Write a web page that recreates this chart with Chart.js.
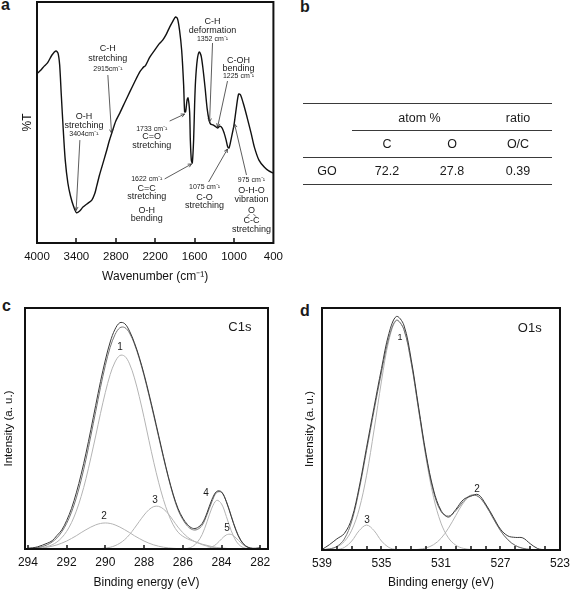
<!DOCTYPE html>
<html>
<head>
<meta charset="utf-8">
<title>GO characterisation</title>
<script src="https://cdn.jsdelivr.net/npm/chart.js@4.4.1/dist/chart.umd.min.js"></script>
<style>
  html, body { margin: 0; padding: 0; background: #fff; }
  body { position: relative; width: 576px; height: 591px; overflow: hidden;
         font-family: "Liberation Sans", Arial, Helvetica, sans-serif; color: #1a1a1a; }
  .box { position: absolute; }
  .tag { position: absolute; font-weight: bold; font-size: 16px; line-height: 16px; }
  .rule { position: absolute; height: 0; border-top: 1.5px solid #3a3a3a; }
  .cell { position: absolute; transform: translate(-50%, -50%); font-size: 12.5px; white-space: nowrap; }
</style>
</head>
<body>
<div class="tag" style="left:1px;top:-3px">a</div>
<div class="tag" style="left:300px;top:-1px">b</div>
<div class="tag" style="left:2px;top:298px">c</div>
<div class="tag" style="left:300px;top:303px">d</div>

<div class="box" style="left:16px;top:0;width:274px;height:290px"><canvas id="ir" width="274" height="290"></canvas></div>
<div class="box" id="tbl" style="left:0;top:0;width:576px;height:290px"></div>
<div class="box" style="left:0;top:295px;width:290px;height:296px"><canvas id="c1s" width="290" height="296"></canvas></div>
<div class="box" style="left:299px;top:295px;width:277px;height:296px"><canvas id="o1s" width="277" height="296"></canvas></div>

<script>
// ---------- a: FTIR spectrum ----------
const irWavenumber = [3990, 3940, 3890, 3840, 3772, 3711, 3680, 3655, 3630, 3600, 3570, 3530, 3490, 3440,
  3400, 3350, 3300, 3240, 3165, 3120, 3090, 3050, 3013, 2975, 2937, 2900, 2861, 2800, 2739, 2660,
  2587, 2510, 2435, 2390, 2370, 2350, 2280, 2208, 2140, 2086, 2030, 1980, 1930, 1889, 1860, 1830,
  1797, 1767, 1752, 1737, 1715, 1700, 1676, 1665, 1650, 1635, 1615, 1600, 1585, 1560, 1530, 1500,
  1470, 1440, 1410, 1380, 1357, 1320, 1290, 1250, 1215, 1180, 1150, 1120, 1095, 1075, 1040, 1000,
  965, 930, 900, 860, 830, 790, 740, 690, 620, 540, 470, 400];
const irTransmit = [70.5, 71.8, 73.4, 74.7, 78.0, 79.7, 78.8, 73.9, 61.4, 46.9, 34.4, 24.9, 19.5, 14.9,
  12.6, 13.3, 14.9, 16.2, 17.8, 20.5, 23.7, 28.0, 31.5, 35.0, 38.6, 42.3, 45.6, 50.6, 53.9, 58.5,
  62.7, 67.0, 71.0, 72.6, 73.2, 73.5, 77.2, 80.0, 82.6, 84.2, 86.7, 89.6, 92.1, 93.8, 93.0, 88.4,
  80.0, 65.6, 54.4, 54.4, 59.3, 60.2, 54.4, 42.7, 34.4, 33.2, 42.7, 57.3, 67.6, 75.9, 79.3, 77.6,
  71.8, 64.3, 56.0, 51.0, 49.4, 49.0, 48.5, 47.7, 48.5, 47.7, 45.6, 42.7, 39.8, 39.4, 43.6, 49.0,
  56.0, 61.8, 61.4, 58.1, 55.2, 51.0, 45.6, 39.8, 34.4, 31.5, 29.9, 29.0];
const irTicks = [4000, 3400, 2800, 2200, 1600, 1000, 400];

// band assignments: label anchor (wavenumber, %T), arrow tail and tip
const irNotes = [
  { x: 3286, y: 52.3, lines: [['O-H', 9, 0], ['stretching', 9, 9], ['3404cm⁻¹', 7, 17]], from: [3347, 42.7], to: [3404, 13.5] },
  { x: 2921, y: 80.5, lines: [['C-H', 9, 0], ['stretching', 9, 10], ['2915cm⁻¹', 7, 20]], from: [2921, 69.7], to: [2865, 45.6] },
  { x: 1327, y: 91.7, lines: [['C-H', 9, 0], ['deformation', 9, 9], ['1352 cm⁻¹', 7, 17]], from: [1327, 83.0], to: [1372, 50.2] },
  { x: 932, y: 75.9, lines: [['C-OH', 9, 0], ['bending', 9, 8], ['1225 cm⁻¹', 7, 16]], from: [1099, 67.2], to: [1250, 48.1] },
  { x: 2253, y: 47.3, lines: [['1733 cm⁻¹', 7, 0], ['C=O', 9, 8], ['stretching', 9, 17]], from: [1980, 50.6], to: [1752, 53.5] },
  { x: 2329, y: 26.6, lines: [['1622 cm⁻¹', 7, 0], ['C=C', 9, 10], ['stretching', 9, 18], ['O-H', 9, 32], ['bending', 9, 40]], from: [2056, 26.6], to: [1645, 32.8] },
  { x: 1448, y: 23.2, lines: [['1075 cm⁻¹', 7, 0], ['C-O', 9, 10], ['stretching', 9, 18]], from: [1387, 25.3], to: [1099, 39.0] },
  { x: 734, y: 26.1, lines: [['975 cm⁻¹', 7, 0], ['O-H-O', 9, 10], ['vibration', 9, 19], ['O', 9, 30], ['C-C', 9, 40, 'epoxide'], ['stretching', 9, 49]], from: [810, 28.2], to: [992, 49.4] }
];

// ---------- b: composition table ----------
const tblElements = ['C', 'O'];
const tblAtomPct = [72.2, 27.8];
const tblSample = 'GO';
const tblRatio = 0.39;

// ---------- c: C1s ----------
const c1sEnergy = [294, 293.75, 293.5, 293.25, 293, 292.75, 292.5, 292.25, 292, 291.75, 291.5, 291.25, 291,
  290.75, 290.5, 290.25, 290, 289.75, 289.5, 289.25, 289, 288.75, 288.5, 288.25, 288, 287.75, 287.5,
  287.25, 287, 286.75, 286.5, 286.25, 286, 285.75, 285.5, 285.25, 285, 284.75, 284.5, 284.25, 284,
  283.75, 283.5, 283.25, 283, 282.75, 282.5, 282.25, 282];
const c1sRaw = [0.3, 0.5, 0.9, 1.6, 2.4, 3.4, 5.6, 7.9, 11.8, 16.8, 23.3, 31.0, 39.8, 49.5, 59.6, 69.5,
  78.4, 85.9, 91.2, 93.9, 93.5, 90.4, 85.6, 79.6, 72.5, 64.5, 56.0, 47.2, 38.4, 30.1, 22.8, 16.9, 12.8,
  10.1, 8.6, 8.8, 10.6, 15.0, 20.5, 23.9, 23.7, 19.6, 13.5, 7.6, 3.4, 1.2, 0.4, 0.3, 0.5];
const c1sFit = [0.17, 0.32, 0.59, 1.03, 1.75, 2.9, 4.6, 7.12, 10.6, 15.26, 21.2, 28.6, 37.2, 46.93, 56.97,
  67.07, 76.16, 83.73, 88.97, 91.81, 91.9, 89.6, 85.1, 79.06, 71.9, 63.82, 55.3, 46.55, 37.85, 29.67,
  22.29, 16.27, 12.24, 9.45, 8.03, 8.11, 9.85, 14.23, 19.57, 23.46, 23.51, 19.73, 13.82, 7.92, 3.62,
  1.32, 0.36, 0.07, 0.01];
const c1sPeak1 = [0.08, 0.15, 0.3, 0.56, 1.0, 1.75, 2.9, 4.7, 7.3, 10.9, 15.7, 21.8, 29.2, 37.8, 46.9, 56.3,
  65.0, 72.4, 77.6, 80.3, 80.0, 76.8, 71.0, 63.3, 54.5, 45.1, 36.0, 27.7, 20.5, 14.6, 10.1, 7.0, 5.3,
  4.2, 3.4, 2.7, 2.0, 1.5, 1.0, 0.65, 0.4, 0.25, 0.12, 0.05, 0, 0, 0, 0, 0];
const c1sPeak2 = [0.09, 0.17, 0.29, 0.47, 0.75, 1.15, 1.7, 2.42, 3.3, 4.36, 5.5, 6.8, 8.0, 9.1, 10.0, 10.6,
  10.8, 10.6, 10.0, 9.1, 8.0, 6.8, 5.5, 4.36, 3.3, 2.42, 1.7, 1.15, 0.75, 0.47, 0.29, 0.17, 0.09, 0.05,
  0.03, 0.01, 0, 0, 0, 0, 0, 0, 0, 0, 0, 0, 0, 0, 0];
const c1sPeak3 = [0, 0, 0, 0, 0, 0, 0, 0, 0, 0, 0, 0, 0, 0.03, 0.07, 0.17, 0.36, 0.73, 1.37, 2.41, 3.9, 6.0,
  8.6, 11.4, 14.1, 16.3, 17.6, 17.7, 16.6, 14.6, 11.9, 9.1, 6.8, 4.9, 3.6, 2.6, 1.8, 1.2, 0.75, 0.45,
  0.25, 0.12, 0.05, 0, 0, 0, 0, 0, 0];
const c1sPeak4 = [0, 0, 0, 0, 0, 0, 0, 0, 0, 0, 0, 0, 0, 0, 0, 0, 0, 0, 0, 0, 0, 0, 0, 0, 0, 0, 0, 0, 0, 0,
  0, 0, 0.05, 0.3, 1.0, 2.8, 6.0, 11.3, 17.0, 20.2, 18.7, 13.5, 7.6, 3.3, 1.1, 0.3, 0.06, 0.01, 0];
const c1sPeak5 = [0, 0, 0, 0, 0, 0, 0, 0, 0, 0, 0, 0, 0, 0, 0, 0, 0, 0, 0, 0, 0, 0, 0, 0, 0, 0, 0, 0, 0, 0,
  0, 0, 0, 0, 0, 0, 0.05, 0.23, 0.82, 2.16, 4.16, 5.86, 6.05, 4.57, 2.52, 1.02, 0.3, 0.06, 0.01];
const c1sTicks = [294, 292, 290, 288, 286, 284, 282];
const c1sNotes = [
  { x: 289.24, y: 83.8, lines: [['1', 10, 0]] },
  { x: 290.07, y: 13.7, lines: [['2', 10, 0]] },
  { x: 287.44, y: 20.3, lines: [['3', 10, 0]] },
  { x: 284.8, y: 23.2, lines: [['4', 10, 0]] },
  { x: 283.72, y: 8.7, lines: [['5', 10, 0]] },
  { x: 283.05, y: 92.1, lines: [['C1s', 13, 0]] }
];

// ---------- d: O1s ----------
const o1sEnergy = [539, 538.5, 538, 537.5, 537, 536.5, 536, 535.5, 535, 534.5, 534, 533.5, 533, 532.5, 532,
  531.5, 531, 530.5, 530, 529.5, 529, 528.5, 528, 527.5, 527, 526.5, 526, 525.5, 525, 524.5, 524, 523.5, 523];
const o1sRaw = [0.2, 2.2, 4.6, 6.8, 13.0, 26.0, 42.5, 59.0, 75.0, 89.5, 96.5, 93.0, 78.6, 58.8, 39.5, 24.8,
  16.4, 13.6, 16.8, 20.8, 22.2, 22.9, 19.0, 13.8, 8.6, 5.8, 5.2, 5.0, 2.6, 0.6, 0.1, 0, 0];
const o1sFit = [0.12, 0.45, 1.47, 4.53, 11.9, 24.9, 41.2, 57.6, 73.5, 87.73, 94.97, 91.22, 77.38, 57.88,
  38.66, 24.0, 15.9, 14.0, 16.26, 20.08, 22.61, 22.16, 18.52, 13.2, 8.0, 4.2, 1.85, 0.7, 0.22, 0.06, 0.01, 0, 0];
const o1sPeak1 = [0.12, 0.43, 1.3, 3.5, 8.2, 16.9, 30.9, 49.6, 69.8, 86.7, 94.8, 91.2, 77.3, 57.6, 37.8, 21.8,
  11.1, 5.0, 1.96, 0.68, 0.21, 0.06, 0.02, 0, 0, 0, 0, 0, 0, 0, 0, 0, 0];
const o1sPeak2 = [0, 0, 0, 0, 0, 0, 0, 0, 0, 0, 0, 0, 0.08, 0.28, 0.86, 2.2, 4.8, 9.0, 14.3, 19.4, 22.4, 22.1,
  18.5, 13.2, 8.0, 4.2, 1.85, 0.7, 0.22, 0.06, 0.01, 0, 0];
const o1sPeak3 = [0, 0.02, 0.17, 1.03, 3.7, 8.0, 10.3, 8.0, 3.7, 1.03, 0.17, 0.02, 0, 0, 0, 0, 0, 0, 0, 0, 0,
  0, 0, 0, 0, 0, 0, 0, 0, 0, 0, 0, 0];
const o1sTicks = [539, 538, 537, 536, 535, 534, 533, 532, 531, 530, 529, 528, 527, 526, 525, 524, 523];
const o1sTickLabels = [539, 535, 531, 527, 523];
const o1sNotes = [
  { x: 533.75, y: 87.6, lines: [['1', 9, 0]] },
  { x: 528.57, y: 25.2, lines: [['2', 10, 0]] },
  { x: 535.98, y: 12.4, lines: [['3', 10, 0]] },
  { x: 525.03, y: 91.7, lines: [['O1s', 13, 0]] }
];

const FONT = '"Liberation Sans", Arial, sans-serif';
Chart.defaults.font.family = FONT;
Chart.defaults.color = '#1a1a1a';

// heavy frame round the plot area + short inward tick marks on the bottom axis
const framePlugin = {
  id: 'frame',
  afterDatasetsDraw(chart, args, opts) {
    const { ctx, chartArea: a } = chart;
    const x = chart.scales.x;
    ctx.save();
    ctx.strokeStyle = '#111';
    ctx.lineWidth = 1.5;
    x.ticks.forEach(t => {
      const px = Math.round(x.getPixelForValue(t.value));
      if (px < a.left + 3 || px > a.right - 3) return;
      ctx.beginPath();
      ctx.moveTo(px, a.bottom);
      ctx.lineTo(px, a.bottom - (opts.tick || 4));
      ctx.stroke();
    });
    ctx.lineWidth = 2;
    ctx.strokeRect(a.left, a.top, a.right - a.left, a.bottom - a.top);
    ctx.restore();
  }
};

function arrow(ctx, x0, y0, x1, y1) {
  const ang = Math.atan2(y1 - y0, x1 - x0), h = 4;
  ctx.beginPath();
  ctx.moveTo(x0, y0);
  ctx.lineTo(x1, y1);
  ctx.moveTo(x1 - h * Math.cos(ang - 0.45), y1 - h * Math.sin(ang - 0.45));
  ctx.lineTo(x1, y1);
  ctx.lineTo(x1 - h * Math.cos(ang + 0.45), y1 - h * Math.sin(ang + 0.45));
  ctx.stroke();
}

// text labels anchored in data coordinates
const notesPlugin = {
  id: 'notes',
  afterDatasetsDraw(chart, args, opts) {
    const { ctx, scales: { x, y } } = chart;
    ctx.save();
    ctx.textAlign = 'center';
    ctx.textBaseline = 'middle';
    ctx.fillStyle = '#1a1a1a';
    ctx.strokeStyle = '#333';
    ctx.lineWidth = 0.8;
    (opts.items || []).forEach(n => {
      const px = x.getPixelForValue(n.x), py = y.getPixelForValue(n.y);
      n.lines.forEach(([txt, size, dy, mark]) => {
        ctx.font = size + 'px ' + FONT;
        ctx.fillText(txt, px, py + dy);
        if (mark === 'epoxide') {
          ctx.beginPath();
          ctx.moveTo(px - 2, py + dy - 6); ctx.lineTo(px - 4.5, py + dy - 3.5);
          ctx.moveTo(px + 2, py + dy - 6); ctx.lineTo(px + 4.5, py + dy - 3.5);
          ctx.stroke();
        }
      });
      if (n.from) {
        arrow(ctx, x.getPixelForValue(n.from[0]), y.getPixelForValue(n.from[1]),
              x.getPixelForValue(n.to[0]), y.getPixelForValue(n.to[1]));
      }
    });
    ctx.restore();
  }
};

const pts = (xs, ys) => xs.map((v, i) => ({ x: v, y: ys[i] }));

// ----- a -----
new Chart(document.getElementById('ir'), {
  type: 'line',
  data: {
    datasets: [{
      data: pts(irWavenumber, irTransmit),
      borderColor: '#111', borderWidth: 1.4, pointRadius: 0, tension: 0.25, fill: false
    }]
  },
  options: {
    responsive: false,
    animation: false,
    layout: { padding: { top: 2, right: 16, left: 0, bottom: 0 } },
    plugins: { legend: { display: false }, tooltip: { enabled: false }, frame: { tick: 5 }, notes: { items: irNotes } },
    scales: {
      x: {
        type: 'linear', reverse: true, min: 400, max: 4000,
        afterBuildTicks: s => { s.ticks = irTicks.map(v => ({ value: v })); },
        afterFit: s => { s.height = 47; },
        grid: { display: false, drawTicks: false }, border: { display: false },
        ticks: { font: { size: 11.5 }, padding: 7, maxRotation: 0, autoSkip: false, color: '#111', callback: v => String(v) },
        title: { display: true, text: 'Wavenumber (cm⁻¹)', font: { size: 12 }, color: '#111', padding: { top: 0, bottom: 6 } }
      },
      y: {
        min: 0, max: 100,
        afterFit: s => { s.width = 21; },
        grid: { display: false, drawTicks: false }, border: { display: false },
        ticks: { display: false },
        title: { display: true, text: '%T', font: { size: 12 }, color: '#111', padding: { top: 4, bottom: 0 } }
      }
    }
  },
  plugins: [framePlugin, notesPlugin]
});

// ----- b -----
(function buildTable() {
  const host = document.getElementById('tbl');
  const rule = (x, y, w) => {
    const d = document.createElement('div');
    d.className = 'rule';
    d.style.left = x + 'px'; d.style.top = y + 'px'; d.style.width = w + 'px';
    host.appendChild(d);
  };
  const cell = (txt, x, y) => {
    const d = document.createElement('div');
    d.className = 'cell';
    d.textContent = txt;
    d.style.left = x + 'px'; d.style.top = y + 'px';
    host.appendChild(d);
  };
  const colX = [387, 452], ratioX = 518;
  rule(303, 103, 249);
  rule(352, 130, 200);
  rule(303, 157, 249);
  rule(303, 184, 249);
  cell('atom  %', (colX[0] + colX[1]) / 2, 118);
  cell('ratio', ratioX, 118);
  tblElements.forEach((e, i) => cell(e, colX[i], 144));
  cell(tblElements[1] + '/' + tblElements[0], ratioX, 144);
  cell(tblSample, 327, 171);
  tblAtomPct.forEach((v, i) => cell(v.toFixed(1), colX[i], 171));
  cell(tblRatio.toFixed(2), ratioX, 171);
})();

// ----- c, d -----
function xpsChart(id, E, raw, fit, peaks, cfg) {
  const line = (d, color, w, order) => ({
    data: pts(E, d), borderColor: color, borderWidth: w, pointRadius: 0, tension: 0.35, fill: false, order
  });
  const datasets = [line(raw, '#3a3a3a', 1, 0), line(fit, '#747474', 1, 1)]
    .concat(peaks.map(p => line(p, '#b4b4b4', 1, 2)));
  return new Chart(document.getElementById(id), {
    type: 'line',
    data: { datasets },
    options: {
      responsive: false,
      animation: false,
      layout: { padding: { top: 13, right: cfg.padRight, left: 0, bottom: 0 } },
      plugins: { legend: { display: false }, tooltip: { enabled: false }, frame: { tick: 4 }, notes: { items: cfg.notes } },
      scales: {
        x: {
          type: 'linear', reverse: true, min: cfg.min, max: cfg.max,
          afterBuildTicks: s => { s.ticks = cfg.ticks.map(v => ({ value: v })); },
          afterFit: s => { s.height = cfg.xHeight; },
          grid: { display: false, drawTicks: false }, border: { display: false },
          ticks: {
            font: { size: 12 }, padding: 6, maxRotation: 0, autoSkip: false, color: '#111',
            callback: v => (cfg.labels.includes(v) ? String(v) : '')
          },
          title: { display: true, text: 'Binding energy (eV)', font: { size: 12 }, color: '#111', padding: { top: 0, bottom: 1 } }
        },
        y: {
          min: 0, max: 100,
          afterFit: s => { s.width = cfg.yWidth; },
          grid: { display: false, drawTicks: false }, border: { display: false },
          ticks: { display: false },
          title: { display: true, text: 'Intensity (a. u.)', font: { size: 11.5 }, color: '#111', padding: { top: cfg.titlePad, bottom: 0 } }
        }
      }
    },
    plugins: [framePlugin, notesPlugin]
  });
}

xpsChart('c1s', c1sEnergy, c1sRaw, c1sFit, [c1sPeak1, c1sPeak2, c1sPeak3, c1sPeak4, c1sPeak5], {
  min: 281.6, max: 294.15, ticks: c1sTicks, labels: c1sTicks, notes: c1sNotes,
  yWidth: 25, xHeight: 42, padRight: 22, titlePad: 2
});
xpsChart('o1s', o1sEnergy, o1sRaw, o1sFit, [o1sPeak1, o1sPeak2, o1sPeak3], {
  min: 523, max: 539, ticks: o1sTicks, labels: o1sTickLabels, notes: o1sNotes,
  yWidth: 23, xHeight: 41, padRight: 10, titlePad: 4
});
</script>
</body>
</html>
